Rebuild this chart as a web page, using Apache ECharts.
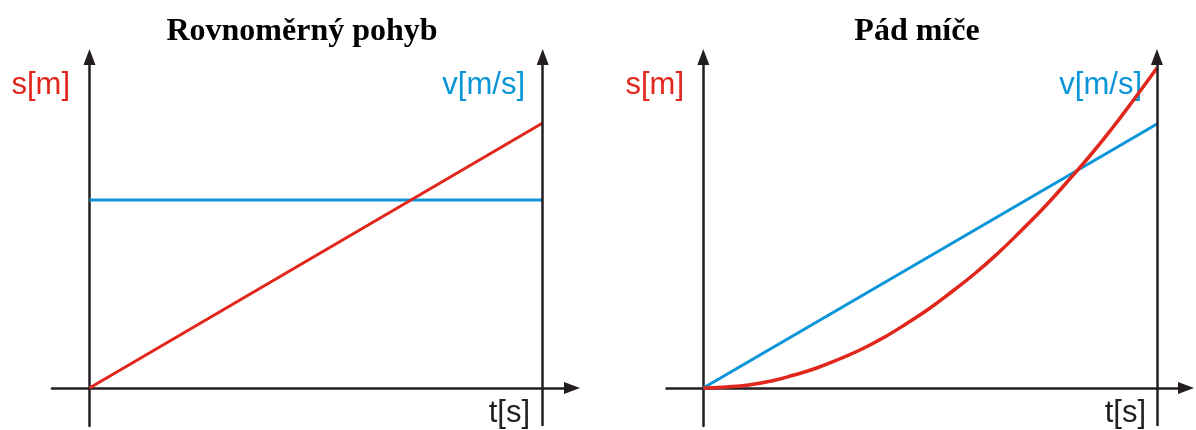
<!DOCTYPE html>
<html>
<head>
<meta charset="utf-8">
<script src="https://cdn.jsdelivr.net/npm/echarts@6/dist/echarts.min.js"></script>
<style>
html, body { margin: 0; background: #fff; }
#chart { width: 1196px; height: 430px; }
</style>
</head>
<body>
<div id="chart"></div>
<script>
// levý graf - rovnoměrný pohyb
const tUniform = [0, 10]
const sUniform = [0, 26.5]
const vUniform = [18.8, 18.8]

// pravý graf - pád míče
const tFall = [0, 0.5, 1, 1.5, 2, 2.5, 3, 3.5, 4, 4.5, 5, 5.5, 6, 6.5, 7, 7.5, 8, 8.5, 9, 9.5, 10]
const sFall = [0, 0.1, 0.3, 0.7, 1.3, 2.0, 2.9, 3.9, 5.1, 6.5, 8.0, 9.7, 11.5, 13.5, 15.7, 18.0, 20.5, 23.1, 25.9, 28.9, 32.0]
const tFallV = [0, 10]
const vFall = [0, 26.4]

const titles = ['Rovnoměrný pohyb', 'Pád míče']
const axisNames = ['s[m]', 'v[m/s]', 't[s]']

const dark = '#231f20'
const red = '#e1261c'
const blue = '#0a95d9'

const pairs = (xs, ys) => xs.map((x, i) => [x, ys[i]])

function axisLineCfg () {
  return {
    onZero: true,
    symbol: ['none', 'triangle'],
    symbolSize: [12, 16],
    lineStyle: { color: dark, width: 2.5 }
  }
}

function xAxisCfg (idx, min, max) {
  return {
    type: 'value',
    gridIndex: idx,
    min: min,
    max: max,
    axisLine: axisLineCfg(),
    axisTick: { show: false },
    axisLabel: { show: false },
    splitLine: { show: false }
  }
}

function yAxisCfg (idx) {
  return {
    type: 'value',
    gridIndex: idx,
    min: -3.8,
    max: 33.1,
    axisLine: axisLineCfg(),
    axisTick: { show: false },
    axisLabel: { show: false },
    splitLine: { show: false }
  }
}

// pravá svislá osa (v) jako markLine v čase t = 10
const rightAxis = {
  silent: true,
  symbol: ['none', 'triangle'],
  symbolSize: [12, 16],
  label: { show: false },
  lineStyle: { color: dark, width: 2.5, type: 'solid' },
  data: [{ xAxis: 10 }]
}

function label (text, x, y, color) {
  return {
    type: 'text',
    x: x,
    y: y,
    style: {
      text: text,
      fill: color,
      font: '31px "Liberation Sans"',
      textAlign: 'right',
      textVerticalAlign: 'middle'
    }
  }
}

const titleStyle = { fontFamily: 'Liberation Serif', fontWeight: 'bold', fontSize: 32, color: '#000' }

const chart = echarts.init(document.getElementById('chart'))
const option = {
  animation: false,
  title: [
    { text: titles[0], left: 297, top: 11, textAlign: 'center', textStyle: titleStyle },
    { text: titles[1], left: 912, top: 11, textAlign: 'center', textStyle: titleStyle }
  ],
  grid: [
    { left: 52, right: 624, top: 57, bottom: 4 },
    { left: 666.5, right: 10, top: 57, bottom: 4 }
  ],
  xAxis: [
    xAxisCfg(0, -0.827, 10.647),
    xAxisCfg(1, -0.811, 10.64)
  ],
  yAxis: [
    yAxisCfg(0),
    yAxisCfg(1)
  ],
  series: [
    {
      name: 'v1',
      type: 'line',
      xAxisIndex: 0,
      yAxisIndex: 0,
      data: pairs(tUniform, vUniform),
      symbol: 'none',
      lineStyle: { color: blue, width: 3 }
    },
    {
      name: 's1',
      type: 'line',
      xAxisIndex: 0,
      yAxisIndex: 0,
      data: pairs(tUniform, sUniform),
      symbol: 'none',
      lineStyle: { color: red, width: 3 },
      markLine: rightAxis
    },
    {
      name: 'v2',
      type: 'line',
      xAxisIndex: 1,
      yAxisIndex: 1,
      data: pairs(tFallV, vFall),
      symbol: 'none',
      lineStyle: { color: blue, width: 3 }
    },
    {
      name: 's2',
      type: 'line',
      xAxisIndex: 1,
      yAxisIndex: 1,
      data: pairs(tFall, sFall),
      smooth: true,
      symbol: 'none',
      lineStyle: { color: red, width: 3.5 },
      markLine: rightAxis
    }
  ],
  graphic: [
    label(axisNames[0], 70, 85, red),
    label(axisNames[1], 525, 85, blue),
    label(axisNames[2], 530, 413, dark),
    label(axisNames[0], 684, 85, red),
    label(axisNames[1], 1142, 85, blue),
    label(axisNames[2], 1146, 413, dark)
  ]
}
chart.setOption(option)
</script>
</body>
</html>
